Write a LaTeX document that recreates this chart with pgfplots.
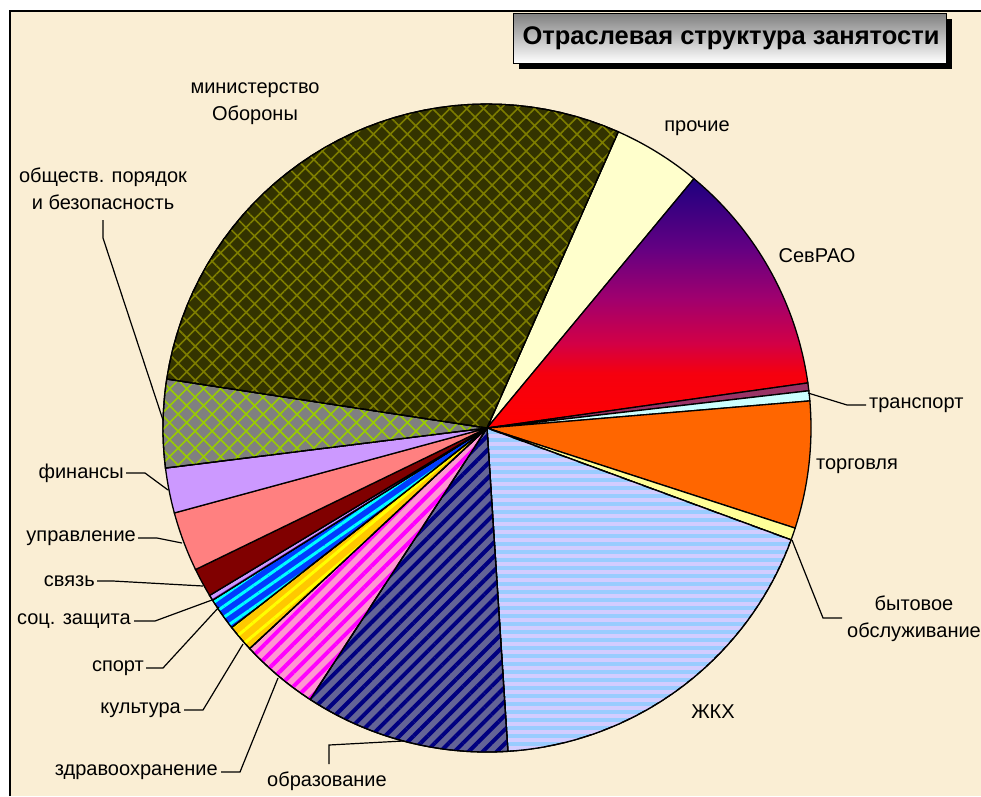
\documentclass[border=0pt]{standalone}
\usepackage{pgfplots}
\pgfplotsset{compat=1.18}
\usepackage{fontspec}
\setmainfont{Liberation Sans}
\usetikzlibrary{patterns.meta}
\definecolor{parch}{RGB}{250,238,212}
\definecolor{olivebase}{RGB}{51,51,0}
\definecolor{olivepat}{RGB}{125,125,0}
\definecolor{prochie}{RGB}{255,255,204}
\definecolor{purp}{RGB}{153,51,102}
\definecolor{transp}{RGB}{204,255,255}
\definecolor{torg}{RGB}{255,102,0}
\definecolor{byt}{RGB}{255,255,153}
\definecolor{zhkh}{RGB}{153,204,255}
\definecolor{zhkhs}{RGB}{210,204,255}
\definecolor{obrb}{RGB}{100,100,150}
\definecolor{obrs}{RGB}{0,0,128}
\definecolor{zdrb}{RGB}{255,150,210}
\definecolor{zdrs}{RGB}{255,0,255}
\definecolor{kulb}{RGB}{255,200,0}
\definecolor{kuls}{RGB}{255,255,0}
\definecolor{sporb}{RGB}{0,60,255}
\definecolor{spors}{RGB}{0,255,255}
\definecolor{socb}{RGB}{204,153,255}
\definecolor{socs}{RGB}{150,50,200}
\definecolor{svyaz}{RGB}{128,0,0}
\definecolor{uprav}{RGB}{255,128,128}
\definecolor{fin}{RGB}{204,153,255}
\definecolor{obshb}{RGB}{128,128,128}
\definecolor{obshs}{RGB}{153,204,0}
\pgfdeclareverticalshading{sevrao}{100bp}{%
  color(0bp)=(red); color(25bp)=(red);
  color(36bp)=(rgb,255:red,245;green,0;blue,15);
  color(42bp)=(rgb,255:red,210;green,0;blue,70);
  color(51bp)=(rgb,255:red,160;green,0;blue,110);
  color(61bp)=(rgb,255:red,100;green,0;blue,130);
  color(75bp)=(rgb,255:red,30;green,0;blue,128);
  color(100bp)=(rgb,255:red,30;green,0;blue,128)}
\tikzset{lab/.style={font=\fontsize{20}{27}\selectfont, inner sep=0pt}}
% slice sizes in degrees (clockwise from 66.1 deg):
% prochie 15.8, SevRAO 42.3, (unlabelled) 1.4, transport 1.8, torgovlya 22.8,
% bytovoe 2.2, ZhKKh 66.1, obrazovanie 36.8, zdravookhr 14.0, kultura 4.9,
% sport 5.9, soc 1.0, svyaz 5.2, upravlenie 10.7, finansy 8.1, obshchestv 15.8,
% MinOborony 105.2
\begin{document}
\begin{tikzpicture}
\begin{axis}[width=981pt, height=796pt, scale only axis,
  xmin=0, xmax=981, ymin=0, ymax=796, y dir=reverse,
  axis lines=none, clip=false,
  pie/.style={draw=black, line width=1.3pt, samples=40, variable=\t}]
\fill[white] (axis cs:0,0) rectangle (axis cs:981,796);
\fill[parch] (axis cs:10,11) rectangle (axis cs:981,796);
\draw[black, line width=2pt] (axis cs:10,796) -- (axis cs:10,11) -- (axis cs:981,11);
% slices
\addplot[pie, fill=prochie, domain=50.3:66.1] ({487+324*cos(\t)},{428-324*sin(\t)}) -- (axis cs:487,428) -- cycle;
\addplot[pie, shading=sevrao, domain=8.0:50.3] ({487+324*cos(\t)},{428-324*sin(\t)}) -- (axis cs:487,428) -- cycle;
\addplot[pie, fill=purp, domain=6.6:8.0] ({487+324*cos(\t)},{428-324*sin(\t)}) -- (axis cs:487,428) -- cycle;
\addplot[pie, fill=transp, domain=4.8:6.6] ({487+324*cos(\t)},{428-324*sin(\t)}) -- (axis cs:487,428) -- cycle;
\addplot[pie, fill=torg, domain=-18.0:4.8] ({487+324*cos(\t)},{428-324*sin(\t)}) -- (axis cs:487,428) -- cycle;
\addplot[pie, fill=byt, domain=-20.2:-18.0] ({487+324*cos(\t)},{428-324*sin(\t)}) -- (axis cs:487,428) -- cycle;
\addplot[pie, fill=zhkh, postaction={pattern={Lines[angle=0,distance=8pt,line width=3.5pt]}, pattern color=zhkhs}, domain=-86.3:-20.2] ({487+324*cos(\t)},{428-324*sin(\t)}) -- (axis cs:487,428) -- cycle;
\addplot[pie, fill=obrb, postaction={pattern={Lines[angle=45,distance=10pt,line width=4pt]}, pattern color=obrs}, domain=-123.1:-86.3] ({487+324*cos(\t)},{428-324*sin(\t)}) -- (axis cs:487,428) -- cycle;
\addplot[pie, fill=zdrb, postaction={pattern={Lines[angle=45,distance=10pt,line width=4pt]}, pattern color=zdrs}, domain=-137.1:-123.1] ({487+324*cos(\t)},{428-324*sin(\t)}) -- (axis cs:487,428) -- cycle;
\addplot[pie, fill=kulb, postaction={pattern={Lines[angle=40,distance=10pt,line width=3pt]}, pattern color=kuls}, domain=-142.0:-137.1] ({487+324*cos(\t)},{428-324*sin(\t)}) -- (axis cs:487,428) -- cycle;
\addplot[pie, fill=sporb, postaction={pattern={Lines[angle=35,distance=9pt,line width=3pt]}, pattern color=spors}, domain=-147.9:-142.0] ({487+324*cos(\t)},{428-324*sin(\t)}) -- (axis cs:487,428) -- cycle;
\addplot[pie, fill=socb, postaction={pattern={Lines[angle=32,distance=9pt,line width=1.5pt]}, pattern color=socs}, domain=-148.9:-147.9] ({487+324*cos(\t)},{428-324*sin(\t)}) -- (axis cs:487,428) -- cycle;
\addplot[pie, fill=svyaz, domain=-154.1:-148.9] ({487+324*cos(\t)},{428-324*sin(\t)}) -- (axis cs:487,428) -- cycle;
\addplot[pie, fill=uprav, domain=-164.8:-154.1] ({487+324*cos(\t)},{428-324*sin(\t)}) -- (axis cs:487,428) -- cycle;
\addplot[pie, fill=fin, domain=-172.9:-164.8] ({487+324*cos(\t)},{428-324*sin(\t)}) -- (axis cs:487,428) -- cycle;
\addplot[pie, fill=obshb, postaction={pattern={Hatch[angle=45,distance=12pt,line width=1.6pt]}, pattern color=obshs}, domain=-188.7:-172.9] ({487+324*cos(\t)},{428-324*sin(\t)}) -- (axis cs:487,428) -- cycle;
\addplot[pie, fill=olivebase, postaction={pattern={Hatch[angle=45,distance=12pt,line width=1.6pt]}, pattern color=olivepat}, domain=-293.9:-188.7] ({487+324*cos(\t)},{428-324*sin(\t)}) -- (axis cs:487,428) -- cycle;
% leader lines
\begin{scope}[line width=1.2pt]
\draw (axis cs:808,393) -- (axis cs:847,405) -- (axis cs:866,405);
\draw (axis cs:792,540) -- (axis cs:823,618) -- (axis cs:842,618);
\draw (axis cs:403,741) -- (axis cs:329,745) -- (axis cs:329,764);
\draw (axis cs:278,678) -- (axis cs:240,772) -- (axis cs:221,772);
\draw (axis cs:243,644) -- (axis cs:203,710) -- (axis cs:184,710);
\draw (axis cs:219,607) -- (axis cs:163,668) -- (axis cs:146,668);
\draw (axis cs:212,600) -- (axis cs:155,621) -- (axis cs:134,621);
\draw (axis cs:203,586) -- (axis cs:113,581) -- (axis cs:97,581);
\draw (axis cs:182,543) -- (axis cs:157,538) -- (axis cs:138,538);
\draw (axis cs:168,490) -- (axis cs:145,473) -- (axis cs:126,473);
\draw (axis cs:163,420) -- (axis cs:103,238) -- (axis cs:103,220);
\end{scope}
% labels
\node[lab, align=center] at (axis cs:255,104) {министерство\\Обороны};
\node[lab] at (axis cs:697,128) {прочие};
\node[lab] at (axis cs:817,256) {СевРАО};
\node[lab, anchor=west] at (axis cs:869,405) {транспорт};
\node[lab] at (axis cs:857,466) {торговля};
\node[lab, align=center] at (axis cs:914,619) {бытовое\\обслуживание};
\node[lab] at (axis cs:713,712) {ЖКХ};
\node[lab] at (axis cs:327,781) {образование};
\node[lab, anchor=east] at (axis cs:218,772) {здравоохранение};
\node[lab, anchor=east] at (axis cs:181,710) {культура};
\node[lab, anchor=east] at (axis cs:144,668) {спорт};
\node[lab, anchor=east] at (axis cs:131,621) {соц. защита};
\node[lab, anchor=east] at (axis cs:95,581) {связь};
\node[lab, anchor=east] at (axis cs:136,538) {управление};
\node[lab, anchor=east] at (axis cs:124,473) {финансы};
\node[lab, align=center] at (axis cs:103,189) {обществ. порядок\\и безопасность};
% title
\fill[black] (axis cs:519,19) rectangle (axis cs:952,69);
\draw[black, line width=1pt, top color=gray, bottom color=white] (axis cs:513,13) rectangle (axis cs:946,63);
\node[inner sep=0pt, font=\fontsize{25.5}{30}\selectfont\bfseries] at (axis cs:731,38) {Отраслевая структура занятости};
\end{axis}
\pgfresetboundingbox
\path[use as bounding box] (current axis.south west) rectangle (current axis.north east);
\end{tikzpicture}
\end{document}
